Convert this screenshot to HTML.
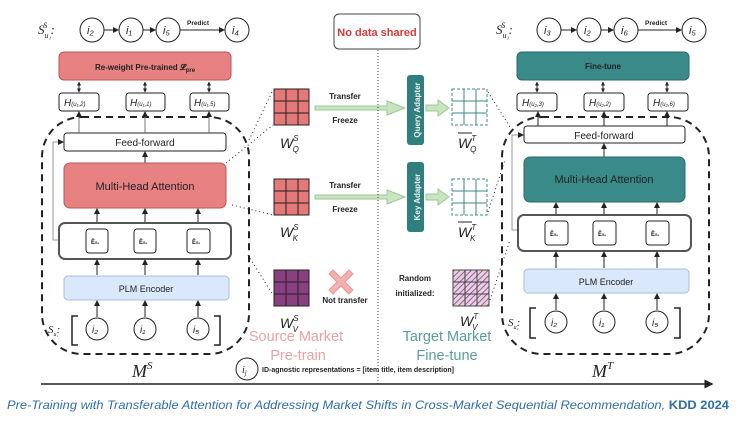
<!DOCTYPE html>
<html><head><meta charset="utf-8"><style>
body{margin:0;background:#fff;width:755px;height:426px;overflow:hidden}
text{font-family:"Liberation Sans",sans-serif}
.s{font-family:"Liberation Serif",serif;font-style:italic}
</style></head><body>
<svg width="755" height="426" viewBox="0 0 755 426" xmlns="http://www.w3.org/2000/svg">
<defs>
<marker id="a" markerWidth="6" markerHeight="6" refX="5" refY="3" orient="auto"><path d="M0,0L6,3L0,6z" fill="#222"/></marker>
<marker id="b" markerWidth="4" markerHeight="4" refX="3.5" refY="2" orient="auto-start-reverse" markerUnits="userSpaceOnUse"><path d="M0,0L4,2L0,4z" fill="#222"/></marker>
<pattern id="h" width="4" height="4" patternUnits="userSpaceOnUse" patternTransform="rotate(45)"><rect width="4" height="4" fill="#e8d0e4"/><line x1="0" y1="0" x2="0" y2="4" stroke="#7a3a70" stroke-width="1.5"/></pattern>
</defs>
<g stroke="#222" fill="none">
<!-- LEFT -->
<text x="38" y="34" class="s" font-size="13" fill="#222" stroke="none">S<tspan font-size="8" dy="4">u₁</tspan><tspan font-size="8" dy="-10" dx="-8">S</tspan><tspan dy="6" font-size="13"> :</tspan></text>
<circle cx="92" cy="30" r="12"/><circle cx="131" cy="30" r="12"/><circle cx="168" cy="30" r="12"/><circle cx="237" cy="30" r="12"/>
<line x1="104" y1="30" x2="118" y2="30" marker-end="url(#a)"/><line x1="143" y1="30" x2="155" y2="30" marker-end="url(#a)"/><line x1="180" y1="30" x2="224" y2="30" marker-end="url(#a)"/>
<g fill="#222" stroke="none" font-size="11" class="s"><text x="87" y="34">i₂</text><text x="126" y="34">i₁</text><text x="163" y="34">i₅</text><text x="232" y="34">i₄</text></g>
<text x="187" y="25" font-size="6.5" font-weight="bold" fill="#222" stroke="none">Predict</text>
<rect x="59" y="52" width="172" height="28" rx="5" fill="#e88282" stroke="#b55"/>
<text x="145" y="70" text-anchor="middle" font-size="8" font-weight="bold" fill="#222" stroke="none">Re-weight Pre-trained 𝓛<tspan font-size="6" dy="2">pre</tspan></text>
<line x1="79" y1="82" x2="79" y2="92" marker-end="url(#b)" marker-start="url(#b)"/><line x1="145" y1="82" x2="145" y2="92" marker-end="url(#b)" marker-start="url(#b)"/><line x1="209" y1="82" x2="209" y2="92" marker-end="url(#b)" marker-start="url(#b)"/>
<rect x="59" y="93" width="40" height="18" rx="3"/><rect x="126" y="93" width="39" height="18" rx="3"/><rect x="190" y="93" width="39" height="18" rx="3"/>
<g fill="#222" stroke="none" font-size="10" class="s"><text x="64" y="106">H<tspan font-size="6">(u₁,2)</tspan></text><text x="130" y="106">H<tspan font-size="6">(u₁,1)</tspan></text><text x="194" y="106">H<tspan font-size="6">(u₁,5)</tspan></text></g>
<rect x="42" y="117" width="207" height="237" rx="40" stroke-width="2" stroke-dasharray="7,5"/>
<rect x="64" y="133" width="162" height="18" rx="3" fill="#fff"/>
<text x="145" y="146" text-anchor="middle" font-size="10" fill="#222" stroke="none">Feed-forward</text>
<line x1="79" y1="133" x2="79" y2="112" stroke="#777" marker-end="url(#a)"/><line x1="145" y1="133" x2="145" y2="112" stroke="#777" marker-end="url(#a)"/><line x1="209" y1="133" x2="209" y2="112" stroke="#777" marker-end="url(#a)"/>
<line x1="145" y1="163" x2="145" y2="152" marker-end="url(#a)"/>
<rect x="64" y="163" width="162" height="45" rx="6" fill="#e88282" stroke="#b55"/>
<text x="145" y="190" text-anchor="middle" font-size="11" fill="#222" stroke="none">Multi-Head Attention</text>
<line x1="97" y1="222" x2="97" y2="209" marker-end="url(#a)"/><line x1="145" y1="222" x2="145" y2="209" marker-end="url(#a)"/><line x1="198" y1="222" x2="198" y2="209" marker-end="url(#a)"/>
<polyline points="59,240 53,240 53,142 63,142" stroke="#999" marker-end="url(#a)"/>
<rect x="59" y="223" width="172" height="36" rx="6" stroke-width="2" stroke="#555"/>
<rect x="86" y="229" width="22" height="24" rx="3"/><rect x="134" y="229" width="22" height="24" rx="3"/><rect x="187" y="229" width="23" height="24" rx="3"/>
<g fill="#222" stroke="none" font-size="6" font-weight="bold"><text x="91" y="244">Ê<tspan font-size="4">S₁</tspan></text><text x="139" y="244">Ê<tspan font-size="4">S₁</tspan></text><text x="192" y="244">Ê<tspan font-size="4">S₁</tspan></text></g>
<line x1="97" y1="275" x2="97" y2="260" marker-end="url(#a)"/><line x1="145" y1="275" x2="145" y2="260" marker-end="url(#a)"/><line x1="198" y1="275" x2="198" y2="260" marker-end="url(#a)"/>
<rect x="64" y="276" width="165" height="24" rx="4" fill="#d9e8fa" stroke="#a8bedc"/>
<text x="146" y="292" text-anchor="middle" font-size="9" fill="#222" stroke="none">PLM Encoder</text>
<line x1="97" y1="317" x2="97" y2="301" marker-end="url(#a)"/><line x1="145" y1="317" x2="145" y2="301" marker-end="url(#a)"/><line x1="198" y1="317" x2="198" y2="301" marker-end="url(#a)"/>
<circle cx="97" cy="329" r="11"/><circle cx="145" cy="329" r="11"/><circle cx="198" cy="329" r="11"/>
<g fill="#222" stroke="none" font-size="10" class="s"><text x="92" y="333">i₂</text><text x="140" y="333">i₁</text><text x="193" y="333">i₅</text></g>
<polyline points="78,316 72,316 72,345 78,345" stroke-width="1.5"/><polyline points="214,316 220,316 220,345 214,345" stroke-width="1.5"/>
<text x="48" y="333" class="s" font-size="11" fill="#222" stroke="none">S<tspan font-size="6" dy="3">u₁</tspan><tspan dx="-2" dy="-3">:</tspan></text>
<text x="132" y="377" class="s" font-size="18" fill="#222" stroke="none">M<tspan font-size="11" dy="-8">S</tspan></text>
<!-- MIDDLE -->
<g stroke="#222" stroke-dasharray="1,3"><line x1="249" y1="140" x2="273" y2="90"/><line x1="226" y1="163" x2="273" y2="125"/><line x1="232" y1="205" x2="273" y2="215"/><line x1="248" y1="255" x2="273" y2="295"/></g>
<g stroke="#222" fill="#e57878"><rect x="274" y="89" width="35" height="36"/><rect x="274" y="179" width="35" height="36"/></g>
<rect x="274" y="270" width="35" height="36" fill="#8a3f80"/>
<g stroke="#222"><path d="M286 89v36M298 89v36M274 101h35M274 113h35M286 179v36M298 179v36M274 191h35M274 203h35M286 270v36M298 270v36M274 282h35M274 294h35"/></g>
<g fill="#222" stroke="none" class="s" font-size="14"><text x="280" y="148">W<tspan font-size="8" dy="-7">S</tspan><tspan font-size="8" dx="-6" dy="11">Q</tspan></text><text x="280" y="237">W<tspan font-size="8" dy="-7">S</tspan><tspan font-size="8" dx="-6" dy="11">K</tspan></text><text x="280" y="328">W<tspan font-size="8" dy="-7">S</tspan><tspan font-size="8" dx="-6" dy="11">V</tspan></text></g>
<g fill="#222" stroke="none" font-size="8" font-weight="bold" text-anchor="middle"><text x="345" y="99">Transfer</text><text x="345" y="123">Freeze</text><text x="345" y="188">Transfer</text><text x="345" y="212">Freeze</text><text x="345" y="303">Not transfer</text><text x="415" y="281">Random</text><text x="415" y="296">initialized:</text></g>
<g fill="#c8e4c0" stroke="#9cc890"><path d="M315 106h72v-5l18 7l-18 7v-5h-72z"/><path d="M315 195h72v-5l18 7l-18 7v-5h-72z"/><path d="M426 105h12v-5l11 8l-11 8v-5h-12z"/><path d="M426 194h12v-5l11 8l-11 8v-5h-12z"/></g>
<path d="M333 270l8 8l8-8l4 4l-8 8l8 8l-4 4l-8-8l-8 8l-4-4l8-8l-8-8z" fill="#f2b0b0" stroke="#e89898"/>
<rect x="334" y="14" width="86" height="35" rx="5" stroke="#444"/>
<text x="377" y="36" text-anchor="middle" font-size="11" font-weight="bold" fill="#d63a3a" stroke="none">No data shared</text>
<line x1="378" y1="50" x2="378" y2="385" stroke="#444" stroke-dasharray="1,2"/>
<rect x="407" y="75" width="17" height="70" rx="3" fill="#2f7f7f" stroke="none"/>
<rect x="407" y="162" width="17" height="70" rx="3" fill="#2f7f7f" stroke="none"/>
<text transform="translate(420,110) rotate(-90)" text-anchor="middle" font-size="8" font-weight="bold" fill="#eee" stroke="none">Query Adapter</text>
<text transform="translate(420,197) rotate(-90)" text-anchor="middle" font-size="8" font-weight="bold" fill="#eee" stroke="none">Key Adapter</text>
<g stroke="#3a8a8a" stroke-dasharray="3,2"><rect x="452" y="89" width="35" height="36"/><rect x="452" y="179" width="35" height="36"/></g>
<g stroke="#3a8a8a"><path d="M464 89v36M476 89v36M452 101h35M452 113h35M464 179v36M476 179v36M452 191h35M452 203h35"/></g>
<rect x="453" y="270" width="36" height="36" fill="url(#h)" stroke="#444"/>
<path d="M465 270v36M477 270v36M453 282h36M453 294h36" stroke="#444"/>
<g fill="#222" stroke="none" class="s" font-size="14"><text x="458" y="148">W<tspan font-size="8" dy="-7">T</tspan><tspan font-size="8" dx="-6" dy="11">Q</tspan></text><text x="458" y="237">W<tspan font-size="8" dy="-7">T</tspan><tspan font-size="8" dx="-6" dy="11">K</tspan></text><text x="460" y="326">W<tspan font-size="8" dy="-7">T</tspan><tspan font-size="8" dx="-6" dy="11">V</tspan></text></g>
<line x1="458" y1="133" x2="472" y2="133" stroke="#222"/><line x1="458" y1="222" x2="472" y2="222" stroke="#222"/>
<g stroke="#222" stroke-dasharray="1,3"><line x1="488" y1="92" x2="510" y2="127"/><line x1="488" y1="212" x2="505" y2="160"/><line x1="490" y1="300" x2="510" y2="240"/></g>
<g font-size="14.5" text-anchor="middle" stroke="none"><text x="296" y="341" fill="#eaa2a2">Source Market</text><text x="298" y="360" fill="#eaa2a2">Pre-train</text><text x="447" y="341" fill="#5a9e98">Target Market</text><text x="447" y="360" fill="#5a9e98">Fine-tune</text></g>
<circle cx="247" cy="369" r="11"/><text x="242" y="373" class="s" font-size="10" fill="#222" stroke="none">i<tspan font-size="7" dy="2">j</tspan></text>
<text x="262" y="372" font-size="7" font-weight="bold" fill="#222" stroke="none">ID-agnostic representations = [item title, item description]</text>
<line x1="41" y1="384" x2="712" y2="384" stroke-width="1.5" marker-end="url(#a)"/>
<!-- RIGHT -->
<text x="496" y="34" class="s" font-size="13" fill="#222" stroke="none">S<tspan font-size="8" dy="4">u₁</tspan><tspan font-size="8" dy="-10" dx="-8">S</tspan><tspan dy="6" font-size="13"> :</tspan></text>
<circle cx="549" cy="30" r="12"/><circle cx="589" cy="30" r="12"/><circle cx="626" cy="30" r="12"/><circle cx="694" cy="30" r="12"/>
<line x1="561" y1="30" x2="576" y2="30" marker-end="url(#a)"/><line x1="601" y1="30" x2="613" y2="30" marker-end="url(#a)"/><line x1="638" y1="30" x2="681" y2="30" marker-end="url(#a)"/>
<g fill="#222" stroke="none" font-size="11" class="s"><text x="544" y="34">i₃</text><text x="584" y="34">i₂</text><text x="621" y="34">i₆</text><text x="689" y="34">i₅</text></g>
<text x="645" y="25" font-size="6.5" font-weight="bold" fill="#222" stroke="none">Predict</text>
<rect x="517" y="52" width="172" height="28" rx="5" fill="#3a8a8a" stroke="#2a6a6a"/>
<text x="603" y="69" text-anchor="middle" font-size="8" font-weight="bold" fill="#222" stroke="none">Fine-tune</text>
<line x1="537" y1="82" x2="537" y2="92" marker-end="url(#b)" marker-start="url(#b)"/><line x1="603" y1="82" x2="603" y2="92" marker-end="url(#b)" marker-start="url(#b)"/><line x1="667" y1="82" x2="667" y2="92" marker-end="url(#b)" marker-start="url(#b)"/>
<rect x="517" y="93" width="40" height="18" rx="3"/><rect x="584" y="93" width="40" height="18" rx="3"/><rect x="648" y="93" width="40" height="18" rx="3"/>
<g fill="#222" stroke="none" font-size="10" class="s"><text x="522" y="106">H<tspan font-size="6">(u₂,3)</tspan></text><text x="589" y="106">H<tspan font-size="6">(u₂,2)</tspan></text><text x="653" y="106">H<tspan font-size="6">(u₂,6)</tspan></text></g>
<rect x="502" y="117" width="207" height="237" rx="40" stroke-width="2" stroke-dasharray="7,5"/>
<rect x="524" y="126" width="161" height="17" rx="3" fill="#fff"/>
<text x="604" y="139" text-anchor="middle" font-size="10" fill="#222" stroke="none">Feed-forward</text>
<line x1="538" y1="126" x2="538" y2="112" marker-end="url(#a)"/><line x1="604" y1="126" x2="604" y2="112" marker-end="url(#a)"/><line x1="667" y1="126" x2="667" y2="112" marker-end="url(#a)"/>
<line x1="604" y1="157" x2="604" y2="144" marker-end="url(#a)"/>
<rect x="524" y="157" width="161" height="45" rx="6" fill="#3a8a8a" stroke="#2a6a6a"/>
<text x="604" y="183" text-anchor="middle" font-size="11" fill="#222" stroke="none">Multi-Head Attention</text>
<line x1="556" y1="214" x2="556" y2="203" marker-end="url(#a)"/><line x1="604" y1="214" x2="604" y2="203" marker-end="url(#a)"/><line x1="657" y1="214" x2="657" y2="203" marker-end="url(#a)"/>
<polyline points="518,230 512,230 512,135 523,135" stroke="#999" marker-end="url(#a)"/>
<rect x="518" y="215" width="173" height="36" rx="6" stroke-width="2" stroke="#555"/>
<rect x="545" y="221" width="23" height="24" rx="3"/><rect x="593" y="221" width="23" height="24" rx="3"/><rect x="646" y="221" width="23" height="24" rx="3"/>
<g fill="#222" stroke="none" font-size="6" font-weight="bold"><text x="550" y="236">Ê<tspan font-size="4">S₁</tspan></text><text x="598" y="236">Ê<tspan font-size="4">S₁</tspan></text><text x="651" y="236">Ê<tspan font-size="4">S₁</tspan></text></g>
<line x1="556" y1="268" x2="556" y2="252" marker-end="url(#a)"/><line x1="604" y1="268" x2="604" y2="252" marker-end="url(#a)"/><line x1="657" y1="268" x2="657" y2="252" marker-end="url(#a)"/>
<rect x="524" y="269" width="165" height="24" rx="4" fill="#d9e8fa" stroke="#a8bedc"/>
<text x="606" y="285" text-anchor="middle" font-size="9" fill="#222" stroke="none">PLM Encoder</text>
<line x1="556" y1="310" x2="556" y2="294" marker-end="url(#a)"/><line x1="604" y1="310" x2="604" y2="294" marker-end="url(#a)"/><line x1="657" y1="310" x2="657" y2="294" marker-end="url(#a)"/>
<circle cx="556" cy="322" r="11"/><circle cx="604" cy="322" r="11"/><circle cx="657" cy="322" r="11"/>
<g fill="#222" stroke="none" font-size="10" class="s"><text x="551" y="326">i₂</text><text x="599" y="326">i₁</text><text x="652" y="326">i₅</text></g>
<polyline points="536,308 530,308 530,338 536,338" stroke-width="1.5"/><polyline points="674,308 680,308 680,338 674,338" stroke-width="1.5"/>
<text x="508" y="326" class="s" font-size="11" fill="#222" stroke="none">S<tspan font-size="6" dy="3">u₂</tspan><tspan dx="-2" dy="-3">:</tspan></text>
<text x="592" y="377" class="s" font-size="18" fill="#222" stroke="none">M<tspan font-size="11" dy="-8">T</tspan></text>
</g>
<text x="7" y="409" font-family="Liberation Sans,sans-serif" font-style="italic" font-size="11.5" fill="#2f6ea8" textLength="722" lengthAdjust="spacingAndGlyphs">Pre-Training with Transferable Attention for Addressing Market Shifts in Cross-Market Sequential Recommendation, <tspan font-weight="bold" font-style="normal">KDD 2024</tspan></text>
</svg>
</body></html>
